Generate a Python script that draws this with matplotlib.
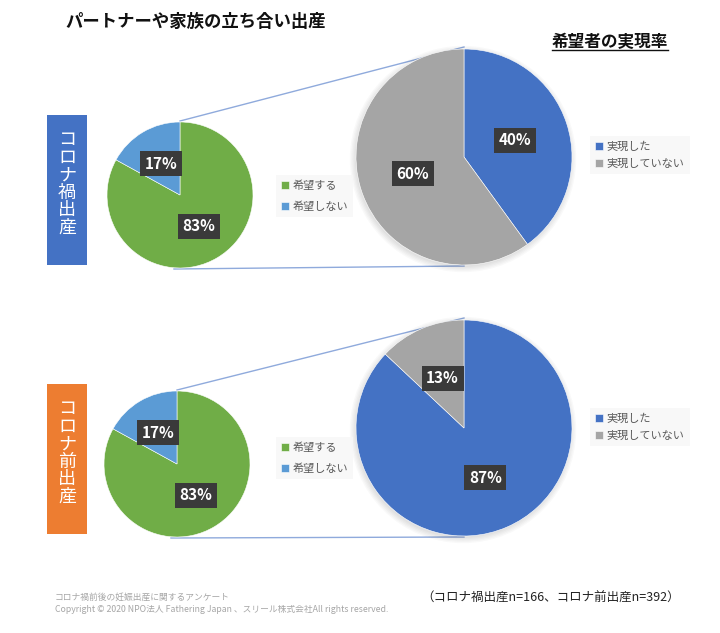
import numpy as np
import matplotlib
matplotlib.use("Agg")
import matplotlib.pyplot as plt
from matplotlib.patches import Rectangle, Circle

plt.rcParams['font.family'] = ['Noto Sans CJK JP', 'DejaVu Sans']

rows = ['コロナ禍出産', 'コロナ前出産']
row_colors = ['#4472C4', '#ED7D31']
want_labels = ['希望する', '希望しない']
want_pct = [[83, 17], [83, 17]]
real_labels = ['実現した', '実現していない']
real_pct = [[40, 60], [87, 13]]

title = 'パートナーや家族の立ち合い出産'
sub_title = '希望者の実現率'
note = '（コロナ禍出産n=166、コロナ前出産n=392）'
source = ['コロナ禍前後の妊娠出産に関するアンケート',
          'Copyright © 2020 NPO法人 Fathering Japan 、スリール株式会社All rights reserved.']

W, H = 720, 633
fig = plt.figure(figsize=(W / 100, H / 100), dpi=100)
ax = fig.add_axes([0, 0, 1, 1])


def Y(y):
    return H - y


small_c = [(180, 195), (177, 464)]
big_c = [(464, 157), (464, 428)]
r_small, r_big = 73, 108
want_colors = ['#70AD47', '#5B9BD5']
real_colors = ['#4472C4', '#A5A5A5']
leg_small_y = [196, 458]
leg_big_y = [155, 427]

lab_kw = dict(color='white', fontsize=11, fontweight='bold')
box_kw = dict(boxstyle='square,pad=0.3', facecolor='#3A3A3A', edgecolor='none')
leg_kw = dict(loc='center left', frameon=True, facecolor='#F7F7F7', edgecolor='none',
              fancybox=False, fontsize=8, labelcolor='#595959', handlelength=0.7,
              handleheight=0.7, handletextpad=0.3, borderpad=0.5)

for i in range(2):
    sx, sy = small_c[i]
    bx, by = big_c[i]

    # connector lines between the two pies
    ax.plot([sx, bx], [Y(sy - r_small) + 1, Y(by - r_big) + 2], color='#8FAADC', lw=1, zorder=1)
    ax.plot([sx - 6, bx], [Y(sy + r_small) - 1, Y(by + r_big) - 1], color='#8FAADC', lw=1, zorder=1)

    # soft shadow behind big pie
    for k in range(5):
        ax.add_patch(Circle((bx - 1, Y(by) - 2), r_big + k * 1.3, facecolor='#000000',
                            alpha=0.022, edgecolor='none', zorder=1))

    w1, t1, a1 = ax.pie(want_pct[i], colors=want_colors, startangle=90, counterclock=False,
                        center=(sx, Y(sy)), radius=r_small, autopct='%d%%', pctdistance=0.5,
                        textprops=lab_kw, wedgeprops=dict(edgecolor='white', linewidth=0.4))
    w2, t2, a2 = ax.pie(real_pct[i], colors=real_colors, startangle=90, counterclock=False,
                        center=(bx, Y(by)), radius=r_big, autopct='%d%%', pctdistance=0.5,
                        textprops=lab_kw, wedgeprops=dict(edgecolor='white', linewidth=0.4))
    for t in list(a1) + list(a2):
        t.set_bbox(box_kw)
        t.set_zorder(5)

    fig.legend(w1, want_labels, bbox_to_anchor=(270 / W, 1 - leg_small_y[i] / H),
               labelspacing=0.95, **leg_kw)
    fig.legend(w2, real_labels, bbox_to_anchor=(584 / W, 1 - leg_big_y[i] / H),
               labelspacing=0.6, **leg_kw)

    # side box with vertical label
    top = sy - 80
    ax.add_patch(Rectangle((47, Y(top + 150)), 40, 150, facecolor=row_colors[i],
                           edgecolor='none', zorder=2))
    n = len(rows[i])
    for j, ch in enumerate(rows[i]):
        ax.text(67, Y(top + 69 + (j - (n - 1) / 2) * 17.5), ch, color='white', fontsize=13,
                ha='center', va='center', zorder=3)

ax.text(65, Y(22), title, fontsize=12.5, fontweight='bold', color='#111111',
        ha='left', va='center')
st = ax.text(610, Y(42), sub_title, fontsize=12, fontweight='bold', color='#111111',
             ha='center', va='center')

ax.text(55, Y(597), source[0], fontsize=6.3, color='#A6A6A6', ha='left', va='center')
ax.text(55, Y(609), source[1], fontsize=6.3, color='#A6A6A6', ha='left', va='center')
ax.text(680, Y(598), note, fontsize=9, color='#222222', ha='right', va='center')

ax.set_xlim(0, W)
ax.set_ylim(0, H)
ax.set_aspect('equal')
ax.axis('off')

# underline the sub title
fig.canvas.draw()
bb = st.get_window_extent().transformed(ax.transData.inverted())
ax.plot([bb.x0, bb.x1], [bb.y0 + 1, bb.y0 + 1], color='#111111', lw=1)

fig.savefig('out.png', dpi=100, facecolor='white')
